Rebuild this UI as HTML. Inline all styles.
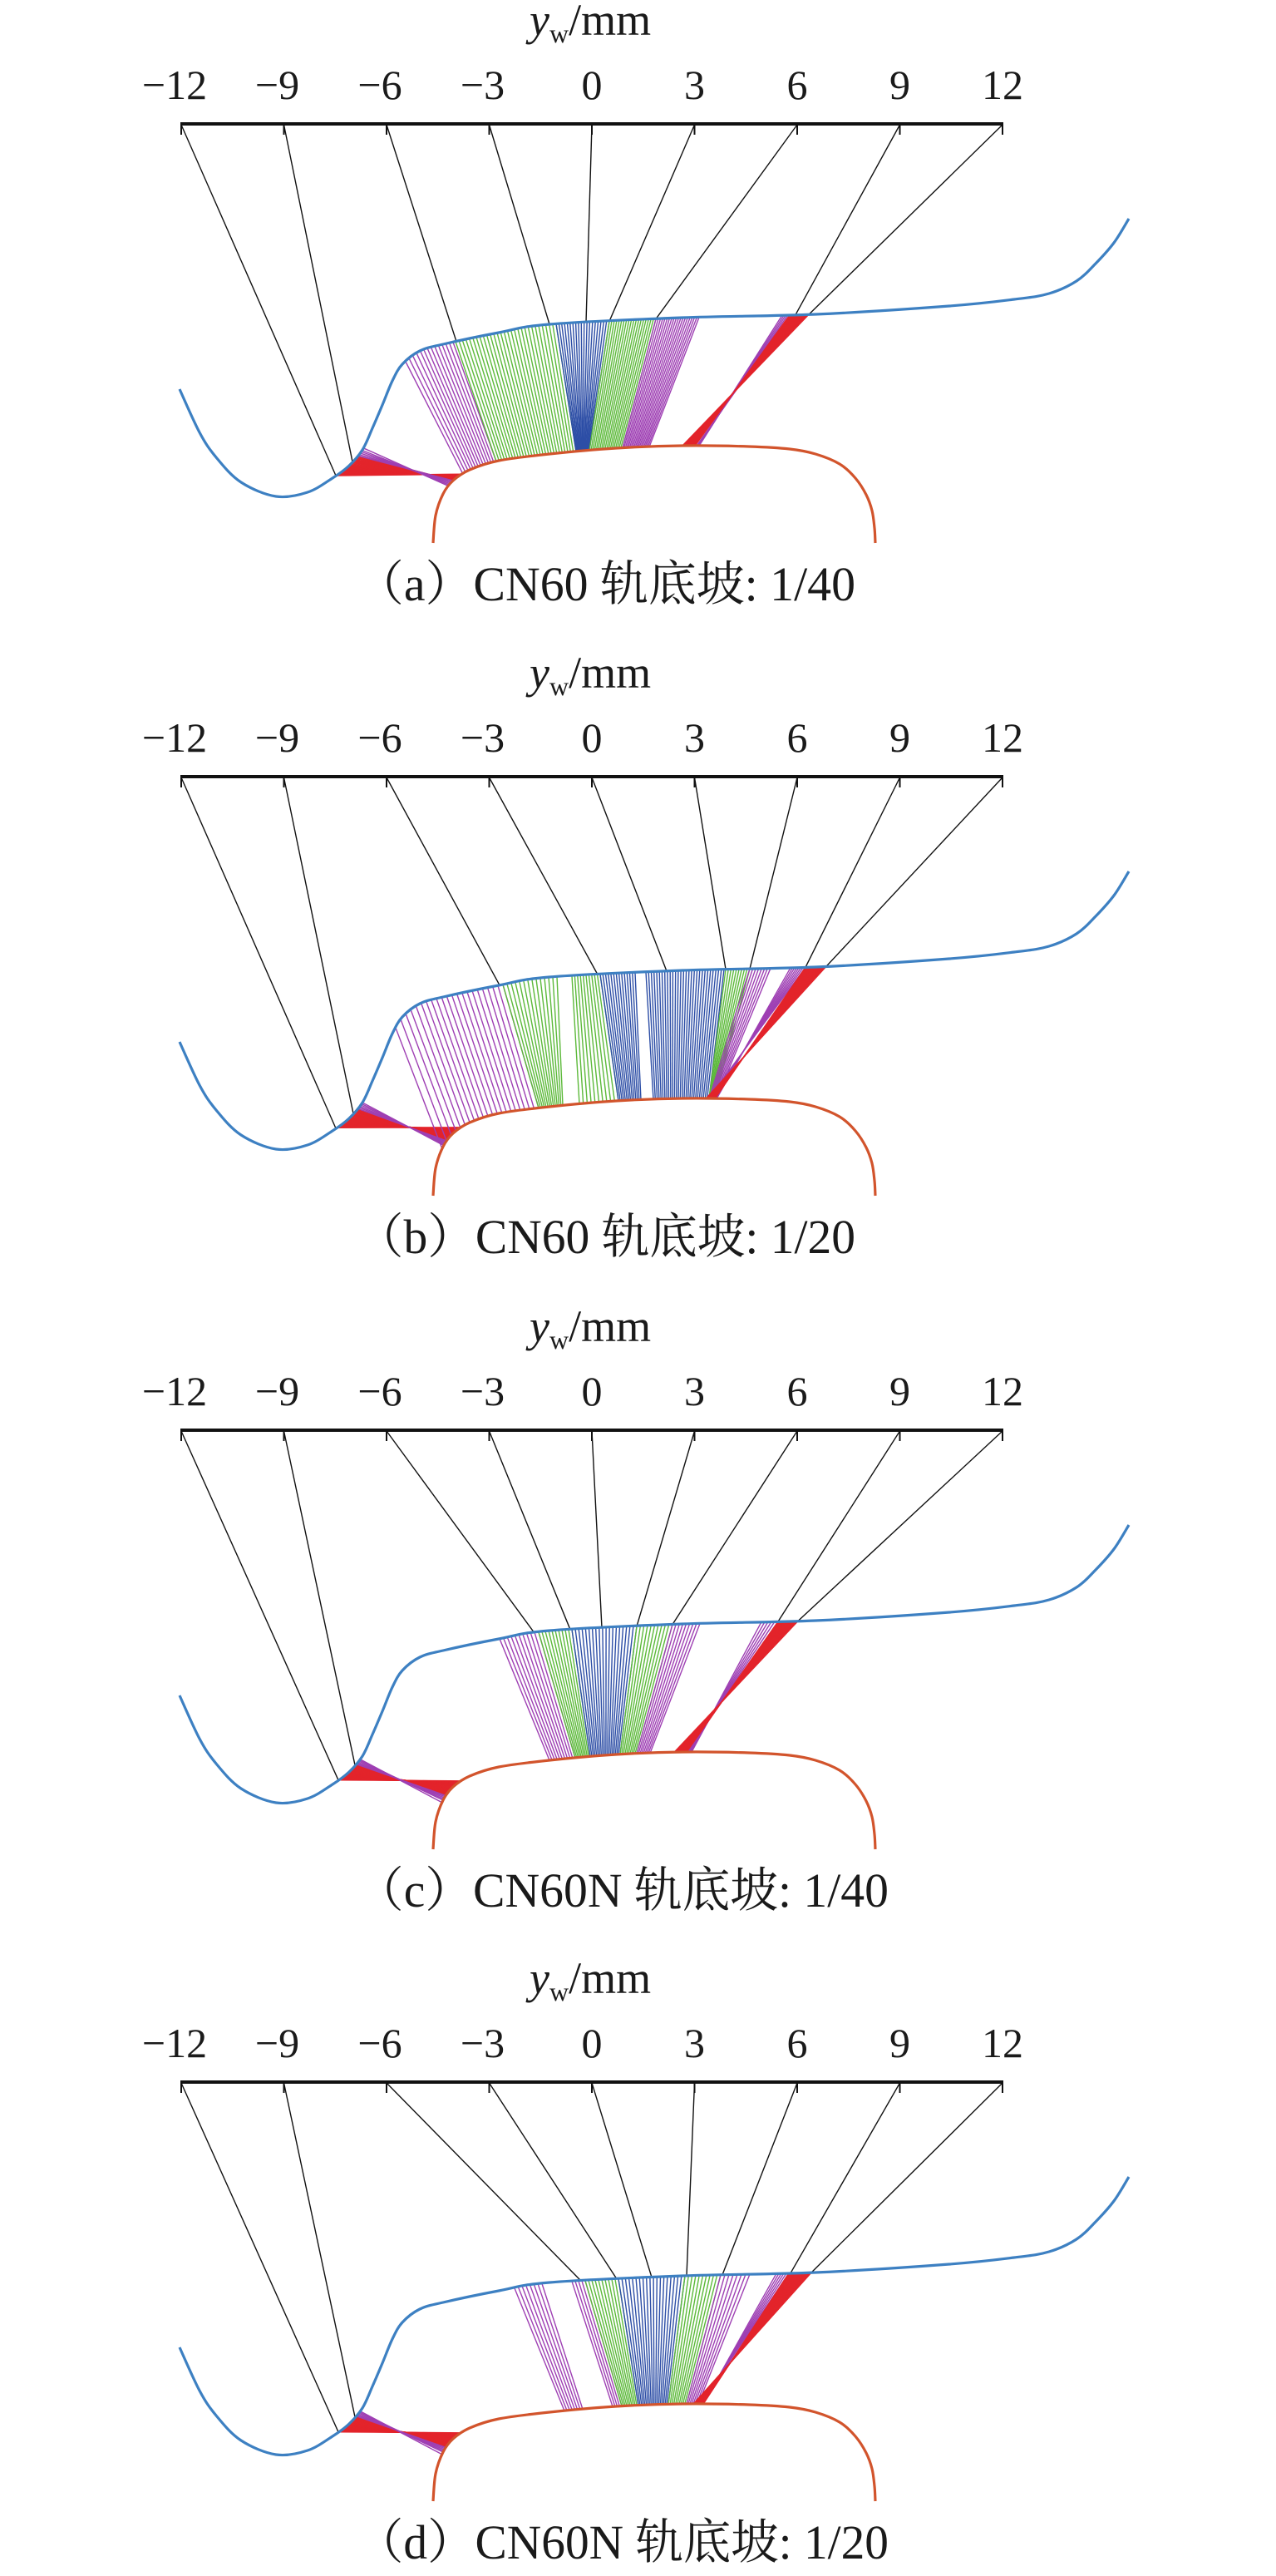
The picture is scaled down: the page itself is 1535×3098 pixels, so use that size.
<!DOCTYPE html>
<html><head><meta charset="utf-8">
<style>
html,body{margin:0;padding:0;background:#fff;}
svg{display:block;}
text{font-family:"Liberation Serif","Noto Serif CJK SC",serif;fill:#1a1a1a;}
</style></head>
<body>
<svg id="s" width="1535" height="3098" viewBox="0 0 1535 3098" xmlns="http://www.w3.org/2000/svg">
</svg>
<script>
const NS="http://www.w3.org/2000/svg";
const svg=document.getElementById('s');
function el(t,a,txt){const e=document.createElementNS(NS,t);for(const k in a)e.setAttribute(k,a[k]);if(txt!=null)e.textContent=txt;svg.appendChild(e);return e;}
const W=[[216,468],[240,520],[260,550],[290,580],[332,597],[370,592],[400,575],[420,560],[436,541],[448,515],[460,487],[472,458],[484,438],[505,422],[533,414],[600,400],[661,390],[821,382],[981,378],[1142,368],[1220,360],[1262,353],[1295,338],[1318,317],[1340,292],[1358,263]];
const R=[[521,653],[524,620],[533,594],[545,578],[565,565],[600,554],[661,546],[741,539],[821,536],[901,537],[950,540],[981,546],[1010,558],[1029,575],[1042,595],[1049,614],[1052,635],[1053,653]];
function f(P,x){for(let i=0;i<P.length-1;i++){if(x>=P[i][0]&&x<=P[i+1][0]){const t=(x-P[i][0])/(P[i+1][0]-P[i][0]);return P[i][1]+t*(P[i+1][1]-P[i][1]);}}return x<P[0][0]?P[0][1]:P[P.length-1][1];}
function smooth(P,off){let d=`M${P[0][0]},${P[0][1]+off}`;for(let i=0;i<P.length-1;i++){const p0=P[Math.max(0,i-1)],p1=P[i],p2=P[i+1],p3=P[Math.min(P.length-1,i+2)];const c1=[p1[0]+(p2[0]-p0[0])/6,p1[1]+(p2[1]-p0[1])/6],c2=[p2[0]-(p3[0]-p1[0])/6,p2[1]-(p3[1]-p1[1])/6];d+=`C${c1[0].toFixed(1)},${(c1[1]+off).toFixed(1)} ${c2[0].toFixed(1)},${(c2[1]+off).toFixed(1)} ${p2[0]},${p2[1]+off}`;}return d;}
const Rc='#e3242b',Pc='#9e3fb3',Gc='#5cb93a',Bc='#2d4ea6';
const panels=[
 {off:0,cap:"（a）CN60 轨底坡: 1/40",capW:601,
  blk:[404,424,549,661,705,733,789,957,973],
  bands:[[404,430,557,545,30,Rc],[430,437,545,540,6,Pc],[488,545,557,597,14,Pc],[548,669,597,693,30,Gc],[669,733,693,709,20,Bc],[733,789,709,749,20,Gc],[789,841,749,781,20,Pc],[941,950,841,838,5,Pc],[950,973,836,821,20,Rc]]},
 {off:785,cap:"（b）CN60 轨底坡: 1/20",capW:601,
  blk:[404,425,601,719,802,873,902,969,994],
  bands:[[405,430,556,538,30,Rc],[430,436,538,534,6,Pc],[476,605,532,648,22,Pc],[605,670,648,677,14,Gc],[688,722,697,744,11,Gc],[722,764,744,771,14,Bc],[777,871,786,853,30,Bc],[873,902,853,860,10,Gc],[902,927,853,862,8,Pc],[951,969,862,852,8,Pc],[969,994,860,849,20,Rc]]},
 {off:1571,cap:"（c）CN60N 轨底坡: 1/40",capW:641,
  blk:[407,427,643,686,724,766,809,936,960],
  bands:[[407,428,556,537,30,Rc],[428,433,537,532,6,Pc],[601,648,661,692,11,Pc],[648,688,692,710,11,Gc],[688,766,710,746,20,Bc],[766,809,746,766,11,Gc],[809,842,766,782,9,Pc],[916,936,832,826,6,Pc],[936,960,826,811,20,Rc]]},
 {off:2355,cap:"（d）CN60N 轨底坡: 1/20",capW:641,
  blk:[407,427,699,742,784,826,869,951,976],
  bands:[[407,428,556,537,30,Rc],[428,433,537,532,6,Pc],[619,652,679,701,8,Pc],[688,704,737,748,5,Pc],[704,744,748,768,11,Gc],[744,824,768,804,20,Bc],[824,867,804,826,11,Gc],[867,902,826,840,8,Pc],[934,949,846,843,6,Pc],[949,976,846,834,20,Rc]]}
];
const ticks=[-12,-9,-6,-3,0,3,6,9,12];
panels.forEach(p=>{
 const o=p.off;
 const t=el('text',{x:637,y:42+o,'font-size':54});
 const ts1=document.createElementNS(NS,'tspan');ts1.setAttribute('font-style','italic');ts1.textContent='y';t.appendChild(ts1);
 const ts2=document.createElementNS(NS,'tspan');ts2.setAttribute('font-size','32');ts2.setAttribute('dy','9');ts2.textContent='w';t.appendChild(ts2);
 const ts3=document.createElementNS(NS,'tspan');ts3.setAttribute('dy','-9');ts3.textContent='/mm';t.appendChild(ts3);
 el('line',{x1:217,y1:149+o,x2:1207,y2:149+o,stroke:'#111','stroke-width':4});
 ticks.forEach((v,i)=>{
  const x=218+i*123.5;
  el('line',{x1:x,y1:149+o,x2:x,y2:162+o,stroke:'#111','stroke-width':2});
  const lab=(v<0?'\u2212':'')+Math.abs(v);
  el('text',{x:v<0?x-8:x,y:119+o,'font-size':50,'text-anchor':'middle'},lab);
 });
 p.bands.forEach(b=>{
  const [w0,w1,r0,r1,n,c]=b;
  for(let k=0;k<n;k++){
   const t=n==1?0:k/(n-1);
   const wx=w0+(w1-w0)*t, rx=r0+(r1-r0)*t;
   el('line',{x1:wx.toFixed(1),y1:(f(W,wx)+o).toFixed(1),x2:rx.toFixed(1),y2:(f(R,rx)+o).toFixed(1),stroke:c,'stroke-width':1.4});
  }
 });
 p.blk.forEach((wx,i)=>{
  const x=218+i*123.5;
  el('line',{x1:x,y1:150+o,x2:wx,y2:(f(W,wx)+o).toFixed(1),stroke:'#111','stroke-width':1.4});
 });
 el('path',{d:smooth(W,o),fill:'none',stroke:'#3d80c2','stroke-width':3.2});
 el('path',{d:smooth(R,o),fill:'none',stroke:'#d2542c','stroke-width':3.2});
 el('text',{x:428,y:722+o,'font-size':58,textLength:p.capW,lengthAdjust:'spacingAndGlyphs'},p.cap);
});
</script>
</body></html>
